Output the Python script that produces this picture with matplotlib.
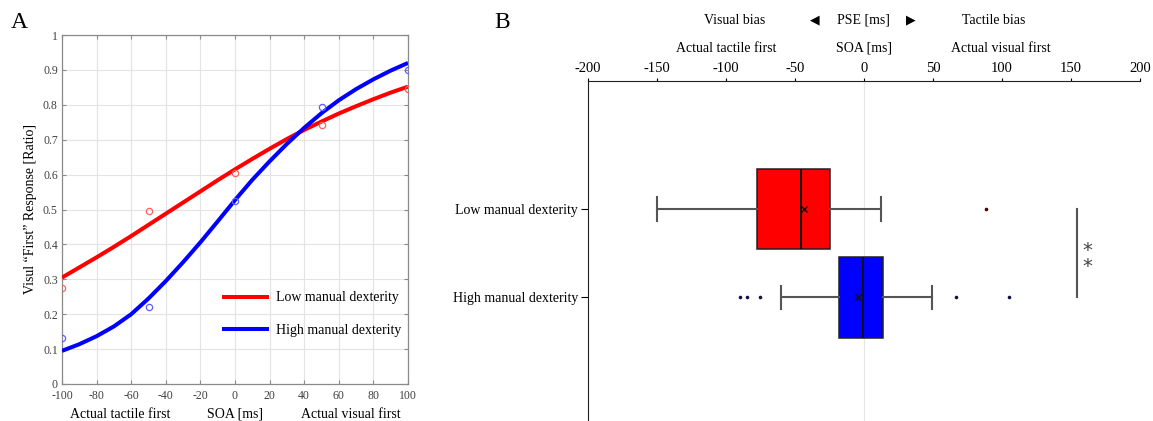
#psychometric_curves_and_pse_boxplot
import numpy as np
import matplotlib
matplotlib.use("Agg")
import matplotlib.pyplot as plt

plt.rcParams['font.family'] = ['Liberation Serif', 'DejaVu Sans']
plt.rcParams['axes.unicode_minus'] = False

# ---- panel A data ----
soa_pts = [-100, -50, 0, 50, 100]
low_pts = [0.275, 0.497, 0.605, 0.743, 0.846]
high_pts = [0.133, 0.220, 0.525, 0.795, 0.900]

soa_curve = [-100, -90, -80, -70, -60, -50, -40, -30, -20, -10, 0,
             10, 20, 30, 40, 50, 60, 70, 80, 90, 100]
low_curve = [0.305, 0.334, 0.363, 0.393, 0.424, 0.456, 0.488, 0.520, 0.552, 0.584, 0.615,
             0.645, 0.674, 0.702, 0.728, 0.752, 0.775, 0.796, 0.816, 0.835, 0.852]
high_curve = [0.095, 0.114, 0.137, 0.165, 0.200, 0.245, 0.295, 0.349, 0.406, 0.466, 0.527,
              0.585, 0.638, 0.688, 0.734, 0.776, 0.813, 0.845, 0.873, 0.898, 0.920]

# ---- panel B data (box plot stats, ms) ----
groups = ['Low manual dexterity', 'High manual dexterity']
q1 = [-77.8, -18.3]
med = [-45.9, -0.9]
q3 = [-24.4, 13.6]
whislo = [-149.8, -60.1]
whishi = [12.5, 49.5]
means = [-43.7, -4.3]
fliers = [[88.6], [-89.9, -84.6, -75.4, 66.9, 105.3]]
box_colors = ['#ff0000', '#0000ff']
flier_colors = ['#4a0000', '#10104a']

W, H = 1153, 421
fig = plt.figure(figsize=(W / 100, H / 100), dpi=100)

def fx(px):
    return px / W

def fy(py):
    return 1 - py / H

# ================= Panel A =================
axA = fig.add_axes([fx(62), fy(384), (408 - 62) / W, (384 - 35) / H])
axA.plot(soa_curve, low_curve, color='#ff0000', lw=2.9, label='Low manual dexterity',
         solid_capstyle='butt', solid_joinstyle='round', zorder=3)
axA.plot(soa_curve, high_curve, color='#0000ff', lw=2.9, label='High manual dexterity',
         solid_capstyle='butt', solid_joinstyle='round', zorder=3)
axA.plot(soa_pts, low_pts, 'o', mfc='none', mec='#ff6060', mew=0.9, ms=4.5, zorder=4)
axA.plot(soa_pts, high_pts, 'o', mfc='none', mec='#6060ff', mew=0.9, ms=4.5, zorder=4)
axA.set_xlim(-100, 100)
axA.set_ylim(0, 1)
axA.set_xticks(np.arange(-100, 101, 20))
axA.set_yticks(np.arange(0, 1.01, 0.1))
axA.set_yticklabels(['0', '0.1', '0.2', '0.3', '0.4', '0.5', '0.6', '0.7', '0.8', '0.9', '1'])
axA.grid(True, color='#e3e3e3', lw=0.8)
axA.set_axisbelow(True)
for s in axA.spines.values():
    s.set_color('#8a8a8a')
    s.set_linewidth(0.9)
axA.tick_params(direction='in', length=3, color='#8a8a8a', labelcolor='#404040',
                labelsize=8.5, top=True, right=True)
axA.tick_params(axis='x', pad=4)
axA.tick_params(axis='y', pad=3)
axA.set_ylabel('Visul \u201cFirst\u201d Response [Ratio]', fontsize=10)
axA.yaxis.set_label_coords(-0.072, 0.5)
axA.legend(loc='center left', bbox_to_anchor=(0.425, 0.2), frameon=False,
           fontsize=10, handlelength=3.4, labelspacing=1.4, handletextpad=0.5)

fig.text(fx(19), fy(22), 'A', fontsize=17, ha='center', va='center')
fig.text(fx(120), fy(414), 'Actual tactile first', fontsize=10, ha='center', va='center')
fig.text(fx(235), fy(414), 'SOA [ms]', fontsize=10, ha='center', va='center')
fig.text(fx(351), fy(414), 'Actual visual first', fontsize=10, ha='center', va='center')

# ================= Panel B =================
axB = fig.add_axes([fx(588), fy(430), (1140 - 588) / W, (430 - 81) / H])
stats = []
for i in range(len(groups)):
    stats.append(dict(label=groups[i], q1=q1[i], med=med[i], q3=q3[i],
                      whislo=whislo[i], whishi=whishi[i], mean=means[i],
                      fliers=fliers[i]))
axB.axvline(0, color='#e6e6e6', lw=0.8, zorder=0)
bp = axB.bxp(stats, positions=[1, 2], widths=0.91, orientation='horizontal',
             patch_artist=True, showmeans=True, capwidths=0.27,
             boxprops=dict(edgecolor='#202020', linewidth=1.1),
             medianprops=dict(color='#101010', linewidth=1.4),
             whiskerprops=dict(color='#555555', linewidth=1.5),
             capprops=dict(color='#555555', linewidth=1.5),
             meanprops=dict(marker='x', markeredgecolor='#101010', markersize=4, markeredgewidth=1),
             flierprops=dict(marker='o', markersize=2.6, markeredgewidth=0, linestyle='none'))
for patch, c in zip(bp['boxes'], box_colors):
    patch.set_facecolor(c)
for fl, c in zip(bp['fliers'], flier_colors):
    fl.set_markerfacecolor(c)

axB.set_xlim(-200, 200)
axB.set_ylim(3.50, -0.45)
axB.set_xticks(np.arange(-200, 201, 50))
axB.xaxis.tick_top()
axB.spines['right'].set_visible(False)
axB.spines['bottom'].set_visible(False)
axB.spines['left'].set_color('#202020')
axB.spines['top'].set_color('#202020')
axB.tick_params(axis='x', direction='out', length=2.5, labelsize=10.5, pad=2)
axB.tick_params(axis='y', direction='out', length=5, labelsize=10, pad=2)

# significance bar
axB.plot([154.3, 154.3], [1, 2], color='#555555', lw=1.5)
axB.text(161.6, 1.56, '*\n*', fontsize=14, color='#404040', linespacing=0.8,
         ha='center', va='center', family=['DejaVu Sans'])

fig.text(fx(502), fy(22), 'B', fontsize=17, ha='center', va='center')
fig.text(fx(735), fy(20), 'Visual bias', fontsize=10, ha='center', va='center')
fig.text(fx(815), fy(20), '\u25c0', fontsize=9, ha='center', va='center', family=['DejaVu Sans'])
fig.text(fx(863), fy(20), 'PSE [ms]', fontsize=10, ha='center', va='center')
fig.text(fx(911), fy(20), '\u25b6', fontsize=9, ha='center', va='center', family=['DejaVu Sans'])
fig.text(fx(994), fy(20), 'Tactile bias', fontsize=10, ha='center', va='center')
fig.text(fx(726), fy(48), 'Actual tactile first', fontsize=10, ha='center', va='center')
fig.text(fx(864), fy(48), 'SOA [ms]', fontsize=10, ha='center', va='center')
fig.text(fx(1001), fy(48), 'Actual visual first', fontsize=10, ha='center', va='center')

fig.savefig('out.png', dpi=100)
